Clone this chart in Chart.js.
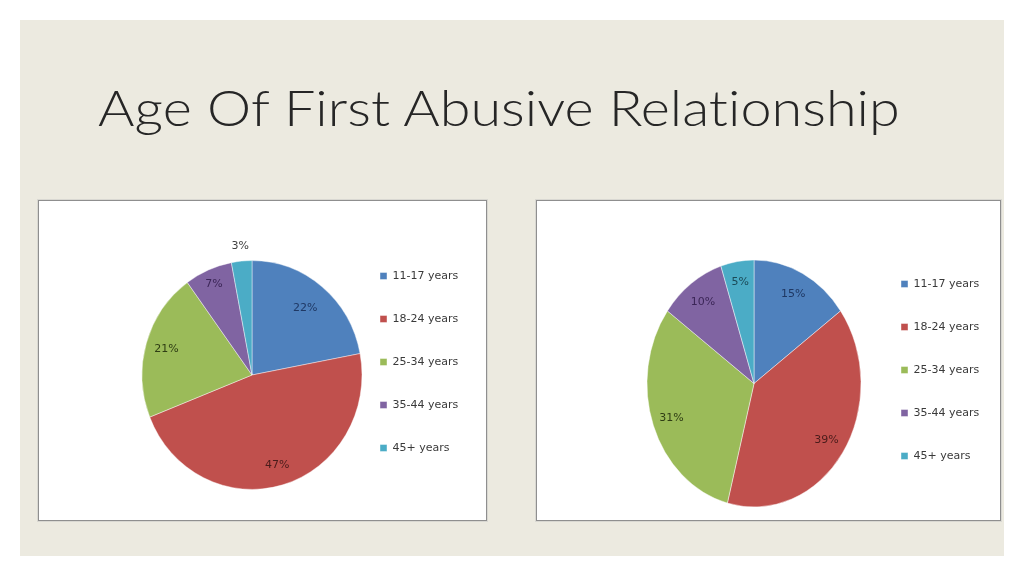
<!DOCTYPE html>
<html>
<head>
<meta charset="utf-8">
<script src="https://cdn.jsdelivr.net/npm/chart.js@4.4.0/dist/chart.umd.min.js"></script>
<style>
html, body { margin: 0; padding: 0; background: #fff; }
body { width: 1024px; height: 576px; position: relative; overflow: hidden; }
#panel { position: absolute; left: 20px; top: 20px; width: 984px; height: 536px; background: #ECEAE0; }
#title { position: absolute; left: 98px; top: 82px; font-family: Lato, 'Open Sans', sans-serif; font-weight: 300; font-size: 50px; line-height: 50px; color: #262626; white-space: nowrap; transform-origin: 0 0; font-variant-ligatures: none; font-feature-settings: "liga" 0, "clig" 0, "dlig" 0; }
.box { position: absolute; top: 200px; height: 319px; background: #fff; border: 1px solid #8f8f8f; box-shadow: 0 0 0 1px #d9d8d2; }
#boxL { left: 38px; width: 447px; }
#boxR { left: 536px; width: 463px; }
canvas { position: absolute; }
#chartL { left: 40px; top: 190px; }
#chartR { left: 538px; top: 190px; }
</style>
</head>
<body>
<div id="panel"></div>
<div id="title">Age Of First Abusive Relationship</div>
<div class="box" id="boxL"></div>
<div class="box" id="boxR"></div>
<canvas id="chartL" width="446" height="340"></canvas>
<canvas id="chartR" width="462" height="340"></canvas>
<script>
const categories = ['11-17 years', '18-24 years', '25-34 years', '35-44 years', '45+ years'];
const leftValues = [22, 47, 21, 7, 3];
const rightValues = [15, 39, 31, 10, 5];
const sliceColors = ['#4F81BD', '#C0504D', '#9BBB59', '#8064A2', '#4BACC6'];
const leftLabelColors = ['#1F3864', '#4A1C1B', '#2F3D14', '#3B2657', '#404040'];
const rightLabelColors = ['#1F3864', '#4A1C1B', '#2F3D14', '#3B2657', '#1B4A57'];

// squash/stretch the pie vertically (the right one is an ellipse in the picture)
const stretchPlugin = {
  id: 'stretchY',
  beforeDatasetsDraw(chart, args, opts) {
    var k = opts.k || 1;
    var a = chart.chartArea;
    var cy = (a.top + a.bottom) / 2;
    chart.ctx.save();
    chart.ctx.translate(0, cy);
    chart.ctx.scale(1, k);
    chart.ctx.translate(0, -cy);
  },
  afterDatasetsDraw(chart) {
    chart.ctx.restore();
  }
};

const pctPlugin = {
  id: 'pctLabels',
  afterDatasetsDraw(chart, args, opts) {
    var ctx = chart.ctx;
    var meta = chart.getDatasetMeta(0);
    var data = chart.data.datasets[0].data;
    var k = opts.k || 1;
    ctx.save();
    ctx.font = '11px "DejaVu Sans"';
    ctx.textAlign = 'center';
    ctx.textBaseline = 'middle';
    meta.data.forEach(function(arc, i) {
      var p = arc.getProps(['x', 'y', 'startAngle', 'endAngle', 'outerRadius']);
      var mid = (p.startAngle + p.endAngle) / 2;
      var r = p.outerRadius * opts.dist[i];
      ctx.fillStyle = opts.colors[i];
      ctx.fillText(data[i] + '%', p.x + Math.cos(mid) * r, p.y + Math.sin(mid) * r * k);
    });
    ctx.restore();
  }
};

function makePie(id, values, radius, pad, k, dist, labelColors) {
  return new Chart(document.getElementById(id), {
    type: 'pie',
    data: {
      labels: categories,
      datasets: [{ data: values, backgroundColor: sliceColors, borderWidth: 0.6, borderColor: 'rgba(255,255,255,0.7)', radius: radius, clip: false }]
    },
    options: {
      responsive: false,
      animation: false,
      events: [],
      layout: { padding: pad },
      plugins: {
        tooltip: { enabled: false },
        legend: {
          position: 'right', align: 'start', maxWidth: 120,
          labels: { boxWidth: 7, boxHeight: 7, padding: 32, color: '#3a3a3a', font: { family: 'DejaVu Sans', size: 11 } }
        },
        stretchY: { k: k },
        pctLabels: { k: k, dist: dist, colors: labelColors }
      }
    },
    plugins: [stretchPlugin, pctPlugin]
  });
}

makePie('chartL', leftValues, 110, { left: 116, right: 18, top: 48.5, bottom: 18.5 }, 1.04, [0.76, 0.82, 0.81, 0.87, 1.13], leftLabelColors);
makePie('chartR', rightValues, 107, { left: 101, right: 11, top: 56.5, bottom: 9.5 }, 1.154, [0.81, 0.82, 0.82, 0.81, 0.83], rightLabelColors);

var t = document.getElementById('title');
t.style.transform = 'scaleX(' + (802 / t.offsetWidth) + ')';
</script>
</body>
</html>
